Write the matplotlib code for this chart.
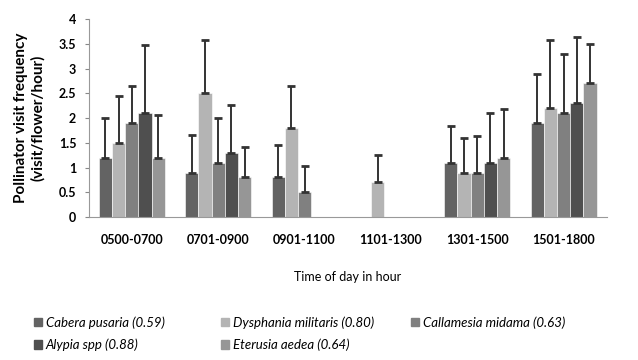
import numpy as np
from matplotlib import pyplot as plt
from matplotlib.patches import Patch

plt.rcParams['font.family'] = ['Lato', 'DejaVu Sans']

periods = ['0500-0700', '0701-0900', '0901-1100', '1101-1300', '1301-1500', '1501-1800']

species = ['Cabera pusaria (0.59)', 'Dysphania militaris (0.80)', 'Callamesia midama (0.63)',
           'Alypia spp (0.88)', 'Eterusia aedea (0.64)']

# mean visit frequency per species
cabera = [1.2, 0.9, 0.8, 0.0, 1.1, 1.9]
dysphania = [1.5, 2.5, 1.8, 0.7, 0.9, 2.2]
callamesia = [1.9, 1.1, 0.5, 0.0, 0.9, 2.1]
alypia = [2.1, 1.3, 0.0, 0.0, 1.1, 2.3]
eterusia = [1.2, 0.8, 0.0, 0.0, 1.2, 2.7]

# upper error (sd)
cabera_err = [0.8, 0.75, 0.65, 0.0, 0.75, 1.0]
dysphania_err = [0.95, 1.07, 0.85, 0.55, 0.7, 1.38]
callamesia_err = [0.75, 0.9, 0.53, 0.0, 0.74, 1.19]
alypia_err = [1.38, 0.97, 0.0, 0.0, 1.0, 1.34]
eterusia_err = [0.87, 0.62, 0.0, 0.0, 0.98, 0.79]

values = [cabera, dysphania, callamesia, alypia, eterusia]
errors = [cabera_err, dysphania_err, callamesia_err, alypia_err, eterusia_err]
colors = ['#636363', '#b4b4b4', '#808080', '#4f4f4f', '#969696']

fig = plt.figure(figsize=(6.38, 3.6), dpi=100)
ax = fig.add_axes([0.139, 0.397, 0.812, 0.55])

x = np.arange(len(periods))
w = 0.153
for i in range(5):
    pos = x + (i - 2) * w
    v = np.array(values[i])
    e = np.array(errors[i])
    mask = (v > 0)
    ax.bar(pos[mask], v[mask], width=w, color=colors[i], edgecolor='white', linewidth=0.4, zorder=2)
    em = e > 0
    ax.errorbar(pos[em], v[em], yerr=[np.zeros(em.sum()), e[em]], fmt='none',
                ecolor='#333333', elinewidth=1.4, capsize=3, capthick=2, zorder=3)

ax.set_xlim(-0.5, len(periods) - 0.5)
ax.set_ylim(0, 4)
ax.set_yticks(np.arange(0, 4.01, 0.5))
ax.set_yticklabels(['0', '0.5', '1', '1.5', '2', '2.5', '3', '3.5', '4'])
ax.set_xticks(x)
ax.set_xticklabels(periods)
for lab in ax.get_xticklabels() + ax.get_yticklabels():
    lab.set_fontweight('bold')
    lab.set_fontsize(9)
ax.tick_params(axis='x', length=0, pad=12)
ax.tick_params(axis='y', length=3, color='#888888', pad=6)
for s in ['top', 'right']:
    ax.spines[s].set_visible(False)
ax.spines['left'].set_color('#999999')
ax.spines['bottom'].set_color('#999999')

ax.set_ylabel('Pollinator visit frequency\n(visit/flower/hour)', fontsize=11, fontweight='bold', labelpad=10)
ax.set_xlabel('Time of day in hour', fontsize=9, labelpad=18)

# legend: three equal-width columns, filled row by row
col_x = [0.053, 0.346, 0.644]
for c in range(3):
    idx = [i for i in range(len(species)) if i % 3 == c]
    handles = [Patch(color=colors[i]) for i in idx]
    labels = [species[i] for i in idx]
    fig.legend(handles, labels, loc='upper left', bbox_to_anchor=(col_x[c], 0.122),
               frameon=False, prop={'style': 'italic', 'size': 9.5},
               handlelength=0.6, handleheight=0.6, handletextpad=0.3,
               labelspacing=0.75, borderpad=0, borderaxespad=0)

fig.savefig('out.png')
